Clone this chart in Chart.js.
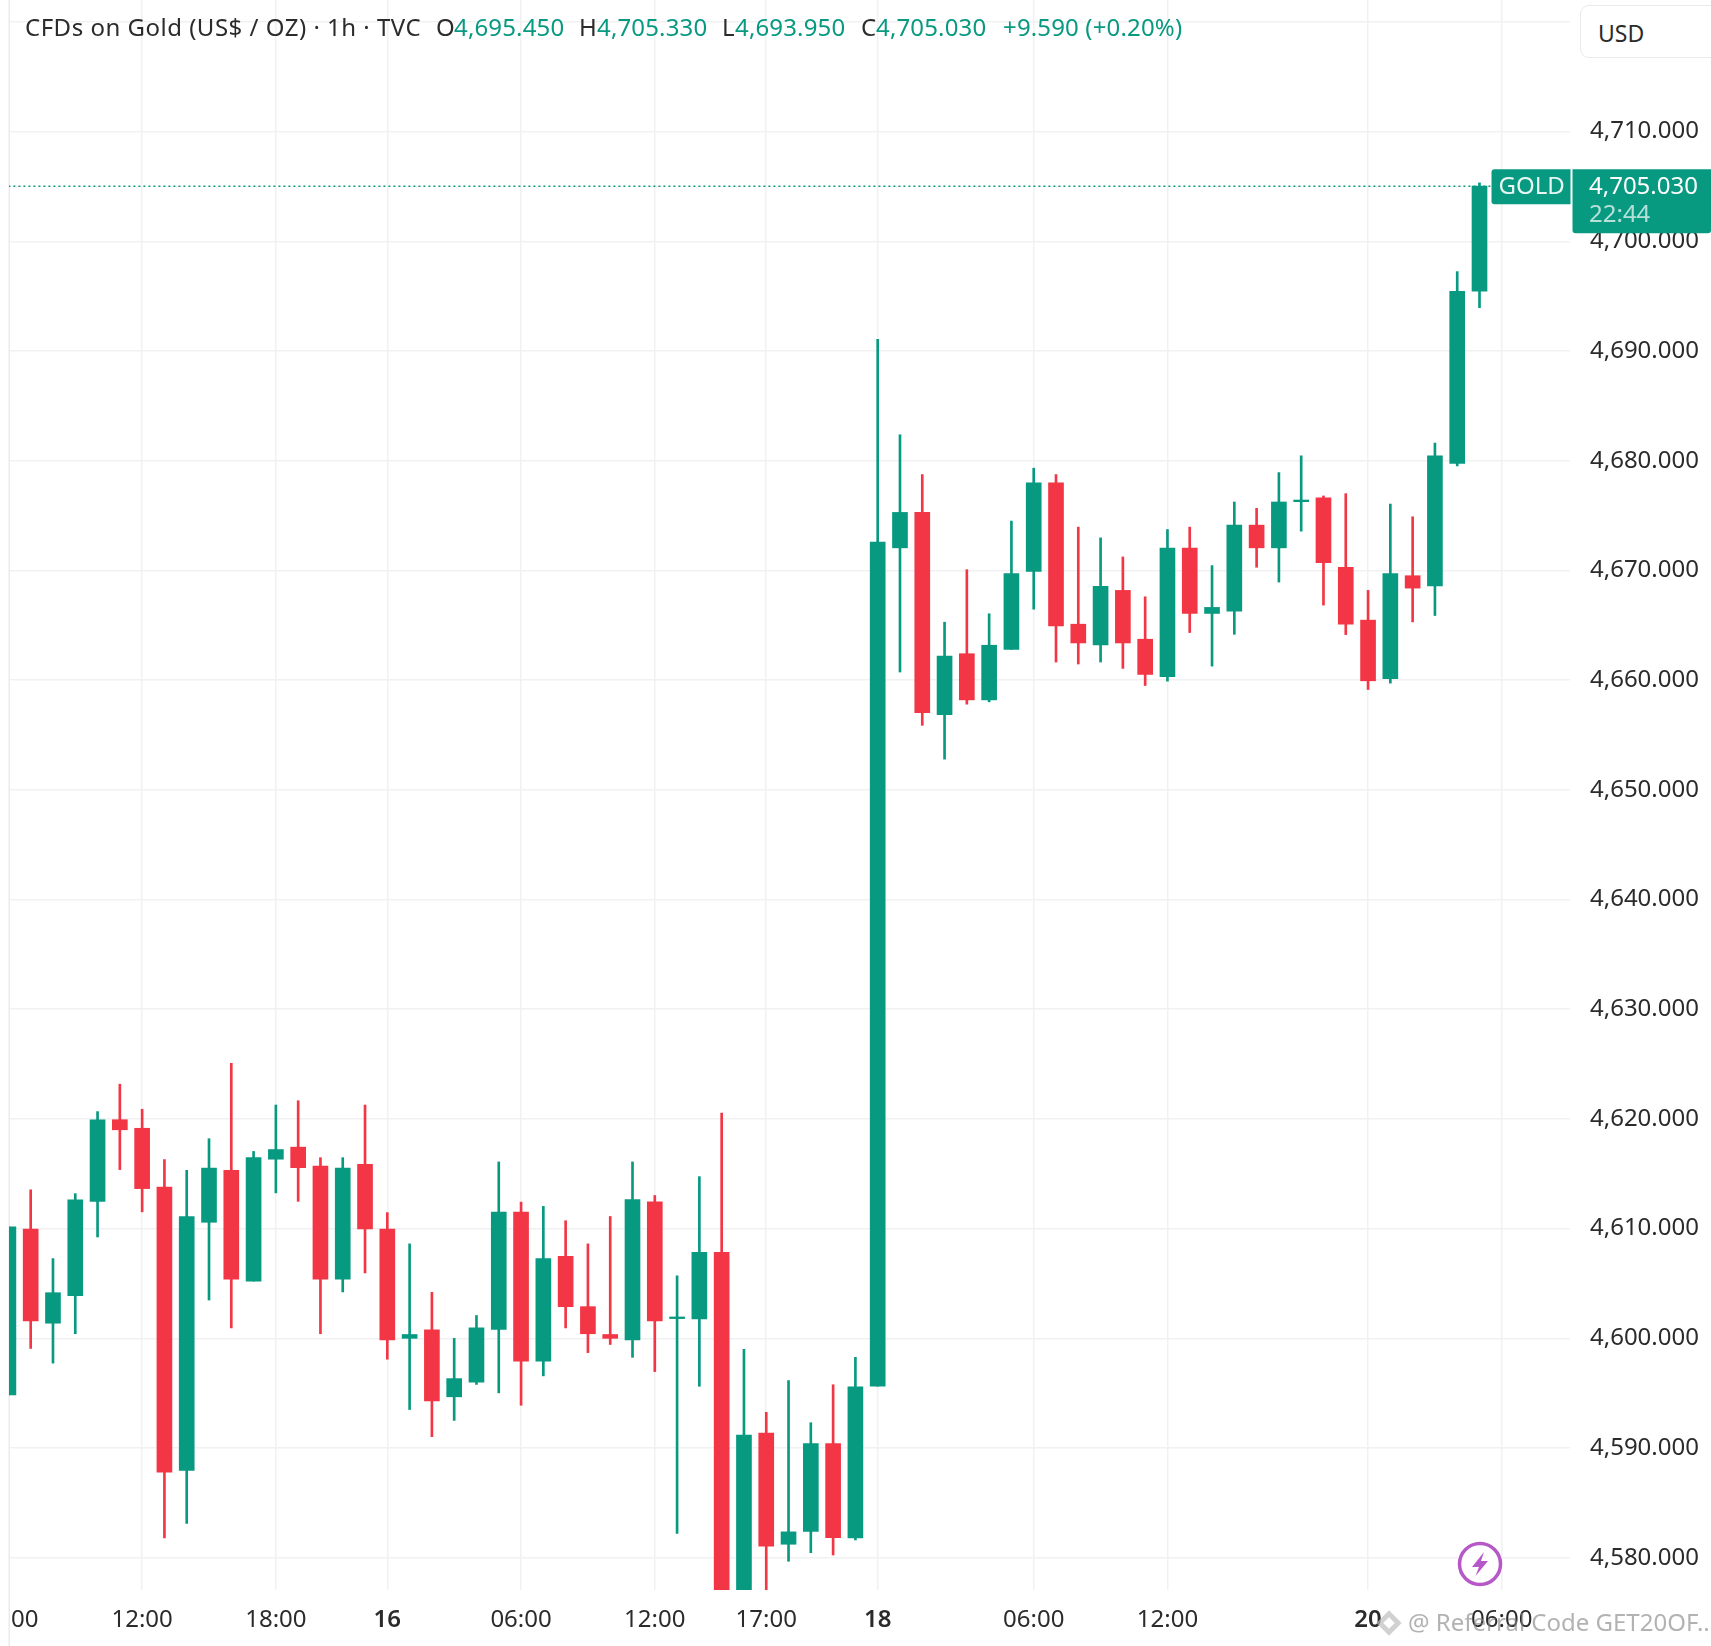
<!DOCTYPE html>
<html>
<head>
<meta charset="utf-8">
<script src="https://cdn.jsdelivr.net/npm/chart.js@4/dist/chart.umd.min.js"></script>
<style>
html,body{margin:0;padding:0;background:#fff;width:1711px;height:1646px;overflow:hidden}
#wrap{position:relative;width:1711px;height:1646px;font-family:"Noto Sans",sans-serif;filter:blur(0.45px)}
canvas{position:absolute;left:0;top:0}
.h{position:absolute;top:10px;font-size:24px;line-height:34px;white-space:nowrap;color:#2b2b2b;letter-spacing:.15px}
.t{letter-spacing:.5px}
.g{color:#089981}
#usd{position:absolute;left:1580px;top:5px;width:140px;height:53px;border:1.5px solid #eaeaea;border-radius:9px;background:#fff;box-sizing:border-box}
#usdt{position:absolute;left:1598px;top:16px;font-size:23px;line-height:34px;color:#2b2b2b}
#wm{position:absolute;left:1408px;top:1604px;font-size:24px;line-height:36px;color:rgba(130,130,130,.62);white-space:nowrap}
svg{position:absolute}
</style>
</head>
<body>
<div id="wrap">
<canvas id="c" width="1711" height="1646"></canvas>
<div id="hdr"></div>
<div id="usd"></div><div id="usdt">USD</div>
<svg style="left:1456px;top:1540px" width="48" height="48" viewBox="0 0 48 48"><circle cx="24" cy="24" r="20.5" fill="#fff" stroke="#b658c8" stroke-width="3.5"/><path d="M28 12 L16 27 L23 27 L19.5 36 L32 21 L25 21 Z" fill="#b658c8"/></svg>
<svg style="left:1374px;top:1608px" width="30" height="30" viewBox="0 0 26 26"><path d="M13 2 L24 13 L13 24 L2 13 Z M13 8 L8 13 L13 18 L18 13 Z" fill="rgba(190,190,190,.7)" fill-rule="evenodd"/></svg>
<div id="wm">@ Referral Code GET20OF...</div>
</div>
<script>
const candleIndex = Array.from({length:67},(_,i)=>i);
const opens = [4594.85,4609.95,4601.38,4603.88,4612.49,4619.93,4619.15,4613.79,4587.97,4610.58,
4615.31,4605.22,4616.33,4617.43,4615.70,4605.40,4615.87,4609.95,4600.00,4600.78,
4594.67,4596.01,4600.81,4611.50,4597.92,4607.48,4602.89,4600.35,4599.86,4612.45,
4601.80,4601.76,4607.83,4572,4591.36,4581.23,4582.40,4590.40,4581.80,4595.63,
4672.06,4675.29,4656.86,4662.41,4658.20,4662.81,4669.92,4677.98,4665.10,4663.21,
4668.18,4663.73,4660.31,4672.03,4666.08,4666.29,4674.13,4672.06,4676.27,4676.63,
4670.29,4665.47,4660.13,4669.52,4668.58,4679.75,4695.45];
const highs = [4610.16,4613.54,4607.27,4613.19,4620.67,4623.17,4620.88,4616.30,4615.31,4618.20,
4625.08,4617.04,4621.27,4621.66,4616.47,4616.47,4621.27,4611.46,4608.61,4604.20,
4600.00,4602.08,4616.08,4612.42,4612.03,4610.72,4608.61,4611.11,4616.08,4613.02,
4605.71,4614.74,4620.53,4599.01,4593.26,4596.15,4592.31,4595.77,4598.27,4691.07,
4682.37,4678.74,4665.28,4670.07,4666.05,4674.50,4679.32,4678.74,4673.95,4672.97,
4671.23,4667.60,4673.73,4673.95,4670.44,4676.24,4675.66,4678.92,4680.45,4676.79,
4677.00,4668.18,4676.05,4674.89,4681.61,4697.24,4705.33];
const lows = [4594.85,4599.08,4597.74,4600.42,4609.24,4615.38,4611.53,4581.80,4583.14,4603.49,
4600.95,4605.22,4613.26,4612.49,4600.42,4604.23,4605.96,4598.10,4593.51,4591.04,
4592.52,4595.80,4595.03,4593.90,4596.58,4600.95,4598.70,4599.44,4598.27,4596.97,
4582.22,4595.63,4568,4570,4575,4579.68,4580.46,4580.25,4581.62,4595.63,
4660.74,4655.88,4652.80,4657.81,4658.02,4662.81,4666.47,4661.65,4661.47,4661.65,
4661.07,4659.51,4659.91,4664.34,4661.28,4664.18,4670.29,4668.94,4673.58,4666.84,
4664.15,4659.15,4659.73,4665.31,4665.89,4679.53,4693.95];
const closes = [4610.16,4601.59,4604.16,4612.63,4619.93,4619.01,4613.65,4587.80,4611.11,4615.52,
4605.40,4616.47,4617.21,4615.56,4605.40,4615.52,4609.98,4599.86,4600.35,4594.29,
4596.33,4600.95,4611.50,4597.92,4607.27,4602.89,4600.42,4600.00,4612.66,4601.59,
4601.95,4607.83,4570,4591.18,4581.06,4582.36,4590.40,4581.83,4595.59,4672.58,
4675.29,4657.04,4662.20,4658.20,4663.18,4669.71,4677.98,4664.95,4663.39,4668.55,
4663.39,4660.52,4672.03,4666.08,4666.63,4674.13,4672.06,4676.24,4676.42,4670.71,
4665.10,4659.94,4669.71,4668.39,4680.45,4695.45,4705.03];
const timeTickIndex = [6,12,17,23,29,34,39,46,52,61,67];
const timeTickLabels = ["12:00","18:00","16","06:00","12:00","17:00","18","06:00","12:00","20","06:00"];
const dayTicks = ["16","18","20"];
const priceTicks = [4580,4590,4600,4610,4620,4630,4640,4650,4660,4670,4680,4690,4700,4710,4720];
const FONT = '"Noto Sans", sans-serif';
const UP = '#089981', DOWN = '#F23645', GRID = '#f1f1f3', TEXT = '#2b2b2b';
const fmt = v => v.toLocaleString('en-US',{minimumFractionDigits:3,maximumFractionDigits:3});
const last = opens.length-1;

// header
const hdrItems = [
 [25,'t', 'CFDs on Gold (US$ / OZ) · 1h · TVC'],
 [436,'','O'],[454,'g',fmt(opens[last])],
 [579,'','H'],[597,'g',fmt(highs[last])],
 [722,'','L'],[735,'g',fmt(lows[last])],
 [861,'','C'],[876,'g',fmt(closes[last])],
 [1003,'g','+9.590 (+0.20%)']
];
const hdr = document.getElementById('hdr');
hdrItems.forEach(([x,c,t])=>{const d=document.createElement('div');d.className='h '+c;d.style.left=x+'px';d.textContent=t;hdr.appendChild(d);});

const colorOf = i => closes[i] >= opens[i] ? UP : DOWN;

const overlay = {
  id:'overlay',
  beforeDatasetsDraw(chart){
    const c = chart.ctx, a = chart.chartArea;
    c.save(); c.fillStyle='#ebebeb'; c.fillRect(a.left-0.5,0,1.5,1646); c.restore();
  },
  afterDatasetsDraw(chart){
    const c = chart.ctx, y = chart.scales.y, x = chart.scales.x, a = chart.chartArea;
    const py = y.getPixelForValue(closes[last]);
    c.save();
    c.fillStyle = UP;
    c.beginPath(); c.roundRect(a.right-78.5, py-17, 79, 35, [3,0,0,3]); c.fill();
    c.beginPath(); c.roundRect(a.right+2.5, py-17, 1711-a.right-2.5, 64, [0,0,3,3]); c.fill();
    c.textBaseline='middle'; c.textAlign='left';
    c.font = '24px '+FONT; c.fillStyle='#e8f6f2';
    c.fillText('GOLD', a.right-71.5, py+1);
    c.fillStyle='#ffffff';
    c.fillText(fmt(closes[last]), a.right+19, py+1);
    c.fillStyle='rgba(255,255,255,.7)';
    c.fillText('22:44', a.right+19, py+29);
    // clipped first time label
    c.fillStyle=TEXT; c.textAlign='right';
    c.fillText('00', x.getPixelForValue(0)+30, 1620);
    c.restore();
  }
};
const noPad = s => { s.paddingTop=0; s.paddingBottom=0; s.paddingLeft=0; s.paddingRight=0; };

new Chart(document.getElementById('c'),{
  data:{
    datasets:[
      {type:'line',label:'Last',data:[{x:0,y:closes[last]},{x:67,y:closes[last]}],borderColor:UP,borderWidth:1.5,borderDash:[2,3],pointRadius:0,order:3},
      {type:'bar',label:'Range',data:candleIndex.map(i=>({x:i,y:[lows[i],highs[i]]})),backgroundColor:candleIndex.map(colorOf),barThickness:2,grouped:false,order:2},
      {type:'bar',label:'Body',data:candleIndex.map(i=>({x:i,y:[Math.min(opens[i],closes[i]),Math.max(opens[i],closes[i])]})),backgroundColor:candleIndex.map(colorOf),barThickness:15,grouped:false,order:1}
    ]
  },
  options:{
    responsive:false,animation:false,devicePixelRatio:1,
    layout:{padding:{left:9,right:0,top:0,bottom:0}},
    plugins:{legend:{display:false},tooltip:{enabled:false}},
    scales:{
      x:{type:'linear',min:0.027,max:70.06,offset:false,
        grid:{color:GRID,lineWidth:1.5,drawTicks:false,offset:false},border:{display:false},
        afterBuildTicks:s=>{s.ticks=timeTickIndex.map(v=>({value:v}));},
        afterFit:s=>{s.height=56;noPad(s);},
        ticks:{autoSkip:false,maxRotation:0,minRotation:0,padding:16,color:TEXT,
          callback:(v)=>timeTickLabels[timeTickIndex.indexOf(v)],
          font:ctx=>({family:FONT,size:24,weight:ctx.tick&&dayTicks.includes(timeTickLabels[timeTickIndex.indexOf(ctx.tick.value)])?'600':'400'})}
      },
      y:{type:'linear',position:'right',min:4577.06,max:4722.0,
        grid:{color:GRID,lineWidth:1.5,drawTicks:false},border:{display:false},
        afterBuildTicks:s=>{s.ticks=priceTicks.map(v=>({value:v}));},
        afterFit:s=>{s.width=141;noPad(s);},
        ticks:{padding:20,color:TEXT,align:'center',crossAlign:'near',font:{family:FONT,size:24},
          callback:v=>v===4720?'':fmt(v)}
      }
    }
  },
  plugins:[overlay]
});
</script>
</body>
</html>
